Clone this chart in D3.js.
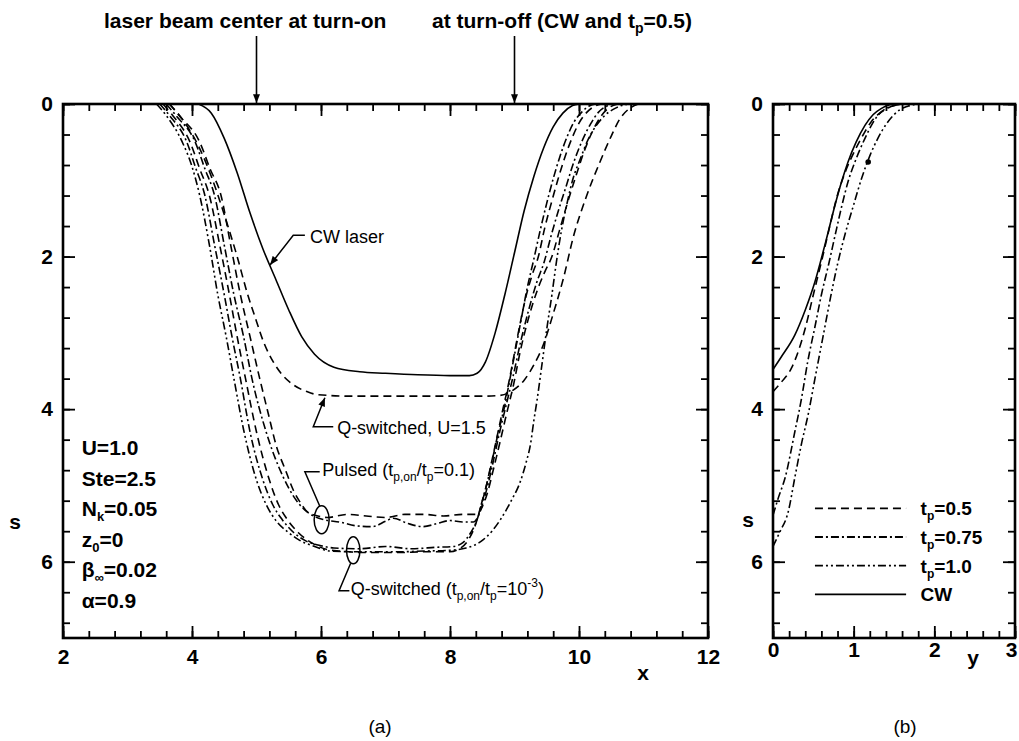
<!DOCTYPE html>
<html>
<head>
<meta charset="utf-8">
<script src="https://cdn.jsdelivr.net/npm/d3@7"></script>
<style>
body { margin: 0; background: #fff; }
text { font-family: "Liberation Sans", Arial, Helvetica, sans-serif; fill: #000; }
</style>
</head>
<body>
<div id="chart"></div>
<script>
var width = 1019;
var height = 741;
var FONT = '"Liberation Sans", Arial, Helvetica, sans-serif';

// tick labels
var xTicksA = [2, 4, 6, 8, 10, 12];
var sTicks = [0, 2, 4, 6];
var yTicksB = [0, 1, 2, 3];

// panel (a): [x, s]
var cwLaser = [[4.1,0],[4.3,0.12],[4.5,0.45],[4.7,0.9],[4.9,1.43],[5.1,1.9],[5.3,2.3],[5.5,2.7],[5.7,3.05],[5.9,3.28],[6.2,3.45],[6.6,3.51],[7.0,3.53],[7.5,3.55],[8.0,3.56],[8.3,3.56],[8.42,3.53],[8.55,3.38],[8.7,3.0],[8.85,2.5],[9.0,1.95],[9.15,1.4],[9.3,0.95],[9.45,0.58],[9.6,0.3],[9.75,0.12],[9.9,0.02],[10.0,0]];
var qSwitchedU15 = [[3.65,0],[3.85,0.2],[4.1,0.55],[4.3,0.95],[4.5,1.45],[4.7,2.0],[4.85,2.46],[5.0,2.85],[5.11,3.12],[5.26,3.38],[5.4,3.55],[5.57,3.68],[5.78,3.77],[5.95,3.81],[6.5,3.83],[7.5,3.83],[8.5,3.83],[8.78,3.82],[8.98,3.75],[9.15,3.62],[9.3,3.42],[9.45,3.15],[9.6,2.75],[9.76,2.28],[9.91,1.75],[10.12,1.2],[10.33,0.75],[10.5,0.42],[10.63,0.2],[10.78,0.06],[10.92,0]];
var qSwitched10 = [[3.45,0],[3.6,0.15],[3.85,0.5],[4.0,0.82],[4.12,1.2],[4.27,1.85],[4.4,2.5],[4.53,3.05],[4.65,3.6],[4.8,4.27],[5.0,4.93],[5.15,5.25],[5.31,5.47],[5.5,5.62],[5.67,5.72],[5.9,5.8],[6.14,5.86],[6.6,5.87],[7.2,5.87],[7.6,5.86],[8.0,5.85],[8.25,5.82],[8.47,5.74],[8.65,5.6],[8.78,5.45],[8.95,5.2],[9.09,4.95],[9.18,4.7],[9.25,4.45],[9.3,4.15],[9.35,3.88],[9.42,3.45],[9.5,2.95],[9.58,2.5],[9.65,2.07],[9.73,1.65],[9.81,1.32],[9.9,1.0],[10.02,0.72],[10.15,0.45],[10.27,0.28],[10.4,0.15],[10.53,0.07],[10.66,0.02],[10.8,0]];
var qSwitched075 = [[3.5,0],[3.65,0.15],[3.92,0.5],[4.05,0.82],[4.2,1.2],[4.35,1.85],[4.5,2.5],[4.62,3.05],[4.75,3.6],[4.9,4.3],[5.1,4.93],[5.25,5.25],[5.4,5.45],[5.58,5.62],[5.75,5.72],[6.0,5.79],[6.2,5.82],[6.6,5.83],[7.0,5.8],[7.4,5.83],[7.8,5.81],[8.05,5.8],[8.2,5.75],[8.32,5.62],[8.42,5.45],[8.5,5.2],[8.58,4.95],[8.66,4.65],[8.75,4.3],[8.85,3.95],[8.93,3.6],[9.02,3.2],[9.12,2.75],[9.2,2.4],[9.29,2.07],[9.4,1.65],[9.5,1.3],[9.6,0.98],[9.7,0.7],[9.82,0.42],[9.92,0.24],[10.05,0.1],[10.15,0.03],[10.25,0]];
var qSwitched05 = [[3.55,0],[3.7,0.15],[3.97,0.5],[4.12,0.85],[4.27,1.2],[4.43,1.85],[4.58,2.5],[4.7,3.05],[4.83,3.6],[5.0,4.3],[5.2,4.93],[5.34,5.25],[5.48,5.45],[5.65,5.62],[5.85,5.75],[6.1,5.84],[6.3,5.86],[6.7,5.88],[7.2,5.88],[7.6,5.87],[8.0,5.87],[8.15,5.83],[8.28,5.72],[8.38,5.55],[8.47,5.3],[8.55,5.05],[8.63,4.75],[8.72,4.4],[8.82,4.0],[8.9,3.7],[8.98,3.35],[9.07,2.95],[9.17,2.55],[9.27,2.25],[9.37,2.0],[9.47,1.62],[9.57,1.3],[9.67,1.0],[9.78,0.7],[9.9,0.43],[10.0,0.25],[10.12,0.11],[10.22,0.04],[10.35,0]];
var pulsed075 = [[3.6,0],[3.75,0.15],[4.05,0.5],[4.2,0.85],[4.35,1.2],[4.5,1.85],[4.65,2.5],[4.8,3.05],[4.93,3.6],[5.15,4.3],[5.42,4.9],[5.58,5.15],[5.72,5.3],[5.88,5.4],[6.05,5.45],[6.29,5.48],[6.55,5.53],[6.8,5.54],[7.0,5.47],[7.12,5.43],[7.35,5.5],[7.58,5.54],[7.8,5.5],[8.0,5.46],[8.2,5.48],[8.36,5.48],[8.45,5.38],[8.52,5.2],[8.6,4.95],[8.68,4.65],[8.77,4.3],[8.87,3.95],[8.97,3.6],[9.1,3.1],[9.22,2.7],[9.34,2.35],[9.46,2.07],[9.57,1.72],[9.68,1.4],[9.8,1.08],[9.92,0.76],[10.05,0.48],[10.18,0.26],[10.3,0.11],[10.42,0.03],[10.52,0]];
var pulsed05 = [[3.65,0],[3.8,0.15],[4.12,0.5],[4.28,0.85],[4.45,1.2],[4.6,1.85],[4.75,2.5],[4.9,3.05],[5.05,3.6],[5.18,4.05],[5.31,4.49],[5.45,4.8],[5.57,5.06],[5.7,5.25],[5.78,5.34],[5.95,5.4],[6.1,5.42],[6.4,5.38],[6.7,5.4],[7.0,5.42],[7.3,5.38],[7.6,5.38],[7.9,5.4],[8.2,5.38],[8.4,5.38],[8.5,5.28],[8.58,5.1],[8.67,4.8],[8.77,4.45],[8.88,4.05],[8.98,3.7],[9.1,3.2],[9.22,2.8],[9.35,2.45],[9.47,2.2],[9.58,2.0],[9.7,1.65],[9.82,1.3],[9.95,0.95],[10.08,0.62],[10.22,0.34],[10.35,0.15],[10.48,0.04],[10.6,0]];

// panel (b): [y, s]
var cwB = [[0,3.48],[0.1,3.32],[0.27,3.03],[0.4,2.7],[0.52,2.33],[0.65,1.82],[0.77,1.32],[0.85,1.02],[0.93,0.76],[1.03,0.5],[1.14,0.28],[1.24,0.14],[1.34,0.06],[1.45,0.01],[1.55,0]];
var tp05B = [[0,3.77],[0.1,3.65],[0.23,3.46],[0.4,2.94],[0.5,2.5],[0.6,2.07],[0.7,1.62],[0.8,1.19],[0.9,0.88],[1.01,0.62],[1.12,0.4],[1.22,0.23],[1.3,0.14],[1.38,0.08],[1.5,0.02],[1.6,0]];
var tp075B = [[0,5.39],[0.07,5.15],[0.15,4.9],[0.27,4.3],[0.35,3.88],[0.43,3.38],[0.52,2.92],[0.6,2.5],[0.69,2.1],[0.77,1.72],[0.85,1.35],[0.93,1.02],[1.03,0.72],[1.14,0.45],[1.22,0.28],[1.3,0.15],[1.4,0.06],[1.47,0.03],[1.6,0]];
var tp10B = [[0,5.8],[0.08,5.62],[0.19,5.34],[0.27,4.9],[0.35,4.47],[0.44,4.05],[0.52,3.6],[0.62,3.05],[0.72,2.5],[0.8,2.1],[0.89,1.72],[1.0,1.32],[1.1,0.97],[1.2,0.68],[1.3,0.45],[1.4,0.27],[1.5,0.14],[1.58,0.07],[1.67,0.03],[1.8,0]];
var strayDot = [[1.18, 0.76]];

var legendLabels = [["t", "p", "=0.5"], ["t", "p", "=0.75"], ["t", "p", "=1.0"], ["CW", "", ""]];
var paramLabels = [["U=1.0", "", ""], ["Ste=2.5", "", ""], ["N", "k", "=0.05"], ["z", "0", "=0"], ["\u03b2", "\u221e", "=0.02"], ["\u03b1=0.9", "", ""]];
var arrowXs = [5, 9];

var DASH = "8,5";
var DASHDOT = "8,3,2,3";
var DASHDOTDOT = "8,3,2,3,2,3";

var xA = d3.scaleLinear().domain([2, 12]).range([63, 708]);
var sA = d3.scaleLinear().domain([0, 7]).range([104, 638]);
var yB = d3.scaleLinear().domain([0, 3]).range([773, 1015]);
var sB = d3.scaleLinear().domain([0, 7]).range([104, 638]);

var svg = d3.select("#chart").append("svg")
    .attr("width", width)
    .attr("height", height)
    .style("background", "#fff");

var defs = svg.append("defs");
defs.append("marker")
    .attr("id", "arrow")
    .attr("viewBox", "0 0 10 8")
    .attr("markerUnits", "userSpaceOnUse")
    .attr("markerWidth", 10).attr("markerHeight", 7)
    .attr("refX", 10).attr("refY", 4)
    .attr("orient", "auto")
    .append("path").attr("d", "M0,0 L10,4 L0,8 Z").attr("fill", "#000");
defs.append("clipPath").attr("id", "clipA").append("rect")
    .attr("x", 63).attr("y", 103).attr("width", 645).attr("height", 536);
defs.append("clipPath").attr("id", "clipB").append("rect")
    .attr("x", 773).attr("y", 103).attr("width", 242).attr("height", 536);

function styleAxis(g) {
    g.select(".domain").remove();
    g.selectAll("line").attr("stroke", "#000").attr("stroke-width", 1.8);
    g.attr("font-family", FONT).attr("font-size", 21).attr("font-weight", "bold");
}

function drawFrame(xs, ss, xMajor, xMinor, sMinor, pad) {
    var x0 = xs.range()[0], x1 = xs.range()[1];
    var y0 = ss.range()[0], y1 = ss.range()[1];
    var makers = [
        function() { return d3.axisBottom(xs); },
        function() { return d3.axisTop(xs); },
        function() { return d3.axisLeft(ss); },
        function() { return d3.axisRight(ss); }
    ];
    var axes = [];
    makers.forEach(function(mk, i) {
        var isX = i < 2;
        var at = [y1, y0, x0, x1][i];
        var tr = isX ? "translate(0," + at + ")" : "translate(" + at + ",0)";
        // minor ticks
        var gm = svg.append("g").attr("transform", tr)
            .call(mk().tickValues(isX ? xMinor : sMinor).tickSize(-7).tickFormat(""));
        styleAxis(gm);
        // major ticks
        var ax = mk().tickValues(isX ? xMajor : sTicks).tickSize(-12).tickPadding(pad[i])
            .tickFormat(i === 1 || i === 3 ? "" : d3.format("d"));
        var g = svg.append("g").attr("transform", tr).call(ax);
        styleAxis(g);
        axes.push(g);
    });
    svg.append("rect")
        .attr("x", x0).attr("y", y0)
        .attr("width", x1 - x0).attr("height", y1 - y0)
        .attr("fill", "none").attr("stroke", "#000").attr("stroke-width", 2.6);
    return axes;
}

drawFrame(xA, sA, xTicksA, d3.range(2, 12.001, 0.4), d3.range(0, 6.9, 0.4), [11, 0, 10, 0]);
var axesB = drawFrame(yB, sB, yTicksB, d3.range(0, 3.001, 0.2), d3.range(0, 6.9, 0.4), [4, 0, 10, 0]);
// keep the last label of (b) inside the picture
axesB[0].selectAll(".tick text").filter(function(d) { return d === 3; }).attr("dx", -4);

// curves (a)
var lineA = d3.line().x(function(d) { return xA(d[0]); }).y(function(d) { return sA(d[1]); }).curve(d3.curveMonotoneX);
var seriesA = [
    { pts: qSwitched10, dash: DASHDOTDOT },
    { pts: qSwitched075, dash: DASHDOT },
    { pts: qSwitched05, dash: DASH },
    { pts: pulsed075, dash: DASHDOT },
    { pts: pulsed05, dash: DASH },
    { pts: qSwitchedU15, dash: DASH },
    { pts: cwLaser, dash: null }
];
var gA = svg.append("g").attr("clip-path", "url(#clipA)");
gA.selectAll("path.curve")
    .data(seriesA)
    .enter().append("path")
    .attr("class", "curve")
    .attr("d", function(d) { return lineA(d.pts); })
    .attr("fill", "none")
    .attr("stroke", "#000")
    .attr("stroke-width", 1.6)
    .attr("stroke-dasharray", function(d) { return d.dash; });

// curves (b)
var lineB = d3.line().x(function(d) { return yB(d[0]); }).y(function(d) { return sB(d[1]); }).curve(d3.curveMonotoneX);
var seriesB = [
    { pts: tp05B, dash: DASH },
    { pts: tp075B, dash: DASHDOT },
    { pts: tp10B, dash: DASHDOTDOT },
    { pts: cwB, dash: null }
];
var gB = svg.append("g").attr("clip-path", "url(#clipB)");
gB.selectAll("path.curve")
    .data(seriesB)
    .enter().append("path")
    .attr("class", "curve")
    .attr("d", function(d) { return lineB(d.pts); })
    .attr("fill", "none")
    .attr("stroke", "#000")
    .attr("stroke-width", 1.6)
    .attr("stroke-dasharray", function(d) { return d.dash; });
gB.selectAll("circle.dot")
    .data(strayDot)
    .enter().append("circle")
    .attr("cx", function(d) { return yB(d[0]); })
    .attr("cy", function(d) { return sB(d[1]); })
    .attr("r", 2.8);

// legend (b)
var legend = svg.append("g");
seriesB.forEach(function(d, i) {
    var yy = sB(5.3) + i * 28.7;
    legend.append("line")
        .attr("x1", yB(0.52)).attr("x2", yB(1.65))
        .attr("y1", yy).attr("y2", yy)
        .attr("stroke", "#000").attr("stroke-width", 1.8)
        .attr("stroke-dasharray", d.dash);
    var t = legend.append("text")
        .attr("x", yB(1.83)).attr("y", yy + 7)
        .attr("font-size", 19).attr("font-weight", "bold");
    var lab = legendLabels[i];
    t.append("tspan").text(lab[0]);
    if (lab[1]) {
        t.append("tspan").attr("dy", 5).attr("font-size", 12).text(lab[1]);
        t.append("tspan").attr("dy", -5).text(lab[2]);
    }
});

// parameter list (a)
paramLabels.forEach(function(lab, i) {
    var t = svg.append("text")
        .attr("x", xA(2.29)).attr("y", sA(4.6) + i * 30.6)
        .attr("font-size", 21).attr("font-weight", "bold");
    t.append("tspan").text(lab[0]);
    if (lab[1]) {
        t.append("tspan").attr("dy", 5).attr("font-size", 13).text(lab[1]);
        t.append("tspan").attr("dy", -5).text(lab[2]);
    }
});

// annotations (a)
function leader(pts, arrow) {
    svg.append("path")
        .attr("d", d3.line().x(function(d) { return xA(d[0]); }).y(function(d) { return sA(d[1]); })(pts))
        .attr("fill", "none").attr("stroke", "#000").attr("stroke-width", 1.5)
        .attr("marker-end", arrow ? "url(#arrow)" : null);
}
leader([[5.75, 1.72], [5.57, 1.72], [5.21, 2.11]], true);
svg.append("text").attr("x", xA(5.83)).attr("y", sA(1.82)).attr("font-size", 18).text("CW laser");

leader([[6.19, 4.23], [5.88, 4.23], [6.06, 3.85]], true);
svg.append("text").attr("x", xA(6.25)).attr("y", sA(4.33)).attr("font-size", 18).text("Q-switched, U=1.5");

leader([[5.98, 4.82], [5.75, 4.82], [5.98, 5.27]], false);
svg.append("ellipse").attr("cx", xA(6.01)).attr("cy", sA(5.45)).attr("rx", 7.5).attr("ry", 14)
    .attr("fill", "none").attr("stroke", "#000").attr("stroke-width", 1.5);
var tp = svg.append("text").attr("x", xA(6.02)).attr("y", sA(4.88)).attr("font-size", 18);
tp.append("tspan").text("Pulsed (t");
tp.append("tspan").attr("dy", 5).attr("font-size", 12).text("p,on");
tp.append("tspan").attr("dy", -5).text("/t");
tp.append("tspan").attr("dy", 5).attr("font-size", 12).text("p");
tp.append("tspan").attr("dy", -5).text("=0.1)");

svg.append("ellipse").attr("cx", xA(6.5)).attr("cy", sA(5.85)).attr("rx", 6.7).attr("ry", 13.5)
    .attr("fill", "none").attr("stroke", "#000").attr("stroke-width", 1.5);
leader([[6.46, 6.02], [6.28, 6.38], [6.44, 6.38]], false);
var tq = svg.append("text").attr("x", xA(6.46)).attr("y", sA(6.44)).attr("font-size", 18);
tq.append("tspan").text("Q-switched (t");
tq.append("tspan").attr("dy", 5).attr("font-size", 12).text("p,on");
tq.append("tspan").attr("dy", -5).text("/t");
tq.append("tspan").attr("dy", 5).attr("font-size", 12).text("p");
tq.append("tspan").attr("dy", -5).text("=10");
tq.append("tspan").attr("dy", -8).attr("font-size", 12).text("-3");
tq.append("tspan").attr("dy", 8).text(")");

// top arrows and labels
arrowXs.forEach(function(v) {
    svg.append("line")
        .attr("x1", xA(v)).attr("x2", xA(v))
        .attr("y1", 36).attr("y2", sA(0) - 1)
        .attr("stroke", "#000").attr("stroke-width", 1.6)
        .attr("marker-end", "url(#arrow)");
});
svg.append("text").attr("x", 104).attr("y", 28)
    .attr("font-size", 21).attr("font-weight", "bold")
    .text("laser beam center at turn-on");
var t2 = svg.append("text").attr("x", 432).attr("y", 28)
    .attr("font-size", 21).attr("font-weight", "bold");
t2.append("tspan").text("at turn-off (CW and t");
t2.append("tspan").attr("dy", 5).attr("font-size", 14).text("p");
t2.append("tspan").attr("dy", -5).text("=0.5)");

// axis titles
svg.append("text").attr("x", 15).attr("y", 529).attr("text-anchor", "middle")
    .attr("font-size", 21).attr("font-weight", "bold").text("s");
svg.append("text").attr("x", 748).attr("y", 527).attr("text-anchor", "middle")
    .attr("font-size", 21).attr("font-weight", "bold").text("s");
svg.append("text").attr("x", 643).attr("y", 680).attr("text-anchor", "middle")
    .attr("font-size", 21).attr("font-weight", "bold").text("x");
svg.append("text").attr("x", 973).attr("y", 665).attr("text-anchor", "middle")
    .attr("font-size", 21).attr("font-weight", "bold").text("y");
svg.append("text").attr("x", 380).attr("y", 733).attr("text-anchor", "middle")
    .attr("font-size", 19).text("(a)");
svg.append("text").attr("x", 905).attr("y", 733).attr("text-anchor", "middle")
    .attr("font-size", 19).text("(b)");
</script>
</body>
</html>
